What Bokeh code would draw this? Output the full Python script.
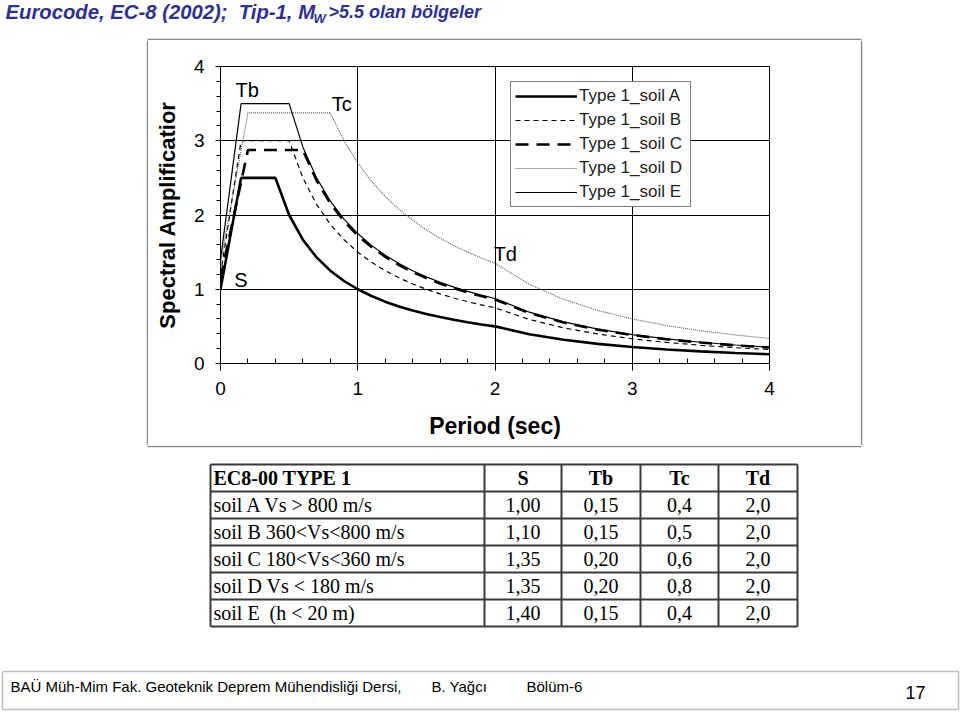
from bokeh.plotting import figure
from bokeh.layouts import column, row
from bokeh.models import Range1d, FixedTicker, Label, Legend, LegendItem
from bokeh.core.properties import value
from bokeh.embed import file_html
from bokeh.resources import INLINE

# ---------------- data ----------------
period = [0, 0.15, 0.2, 0.3, 0.4, 0.5, 0.6, 0.7, 0.8, 0.9, 1.0, 1.1, 1.2, 1.3, 1.4,
          1.5, 1.6, 1.7, 1.8, 1.9, 2.0, 2.25, 2.5, 2.75, 3.0, 3.25, 3.5, 3.75, 4.0]
soil_a = [1.0, 2.5, 2.5, 2.5, 2.5, 2.0, 1.667, 1.429, 1.25, 1.111, 1.0, 0.909, 0.833, 0.769, 0.714,
          0.667, 0.625, 0.588, 0.556, 0.526, 0.5, 0.395, 0.32, 0.264, 0.222, 0.189, 0.163, 0.142, 0.125]
soil_b = [1.2, 3.0, 3.0, 3.0, 3.0, 3.0, 2.5, 2.143, 1.875, 1.667, 1.5, 1.364, 1.25, 1.154, 1.071,
          1.0, 0.938, 0.882, 0.833, 0.789, 0.75, 0.593, 0.48, 0.397, 0.333, 0.284, 0.245, 0.213, 0.188]
soil_c = [1.15, 2.444, 2.875, 2.875, 2.875, 2.875, 2.875, 2.464, 2.156, 1.917, 1.725, 1.568, 1.438, 1.327, 1.232,
          1.15, 1.078, 1.015, 0.958, 0.908, 0.863, 0.681, 0.552, 0.456, 0.383, 0.327, 0.282, 0.245, 0.216]
soil_d = [1.35, 2.869, 3.375, 3.375, 3.375, 3.375, 3.375, 3.375, 3.375, 3.0, 2.7, 2.455, 2.25, 2.077, 1.929,
          1.8, 1.688, 1.588, 1.5, 1.421, 1.35, 1.067, 0.864, 0.714, 0.6, 0.511, 0.441, 0.384, 0.338]
soil_e = [1.4, 3.5, 3.5, 3.5, 3.5, 3.5, 2.917, 2.5, 2.188, 1.944, 1.75, 1.591, 1.458, 1.346, 1.25,
          1.167, 1.094, 1.029, 0.972, 0.921, 0.875, 0.691, 0.56, 0.463, 0.389, 0.331, 0.286, 0.249, 0.219]
series_names = ["Type 1_soil A", "Type 1_soil B", "Type 1_soil C", "Type 1_soil D", "Type 1_soil E"]

x_ticks = [0, 1, 2, 3, 4]
y_ticks = [0, 1, 2, 3, 4]
minor_ticks = [0.2, 0.4, 0.6, 0.8, 1.2, 1.4, 1.6, 1.8, 2.2, 2.4, 2.6, 2.8, 3.2, 3.4, 3.6, 3.8]

table_header = ["EC8-00 TYPE 1", "S", "Tb", "Tc", "Td"]
soil_desc = ["soil A Vs > 800 m/s", "soil B 360<Vs<800 m/s", "soil C 180<Vs<360 m/s",
             "soil D Vs < 180 m/s", "soil E \u00a0(h < 20 m)"]
s_vals = ["1,00", "1,10", "1,35", "1,35", "1,40"]
tb_vals = ["0,15", "0,15", "0,20", "0,20", "0,15"]
tc_vals = ["0,4", "0,5", "0,6", "0,8", "0,4"]
td_vals = ["2,0", "2,0", "2,0", "2,0", "2,0"]

SANS = "Liberation Sans"
SERIF = "Liberation Serif"

# ---------------- page geometry (canvas pixels) ----------------
W, H = 960, 712
TOP_H = 40            # title strip
MID_H = 405           # chart strip
BOT_H = H - TOP_H - MID_H
LEFT_W, CHART_W = 148, 712
RIGHT_W = W - LEFT_W - CHART_W
BORDER = "#8a8a8a"


def no_align(f):
    try:
        f.frame_align = False
    except Exception:
        pass


def canvas_fig(w, h):
    f = figure(width=w, height=h, x_range=Range1d(0, w), y_range=Range1d(h, 0),
               output_backend="svg", toolbar_location=None,
               x_axis_location=None, y_axis_location=None,
               min_border=0, min_border_left=0, min_border_right=0,
               min_border_top=0, min_border_bottom=0)
    f.grid.visible = False
    f.outline_line_color = None
    f.background_fill_color = "white"
    f.border_fill_color = "white"
    no_align(f)
    return f


def put_text(f, xs, ys, texts, size, font=SANS, style="normal", color="black", align="left"):
    f.text(x=xs, y=ys, text=texts, text_font=value(font), text_font_size=value(size),
           text_font_style=value(style), text_color=value(color), text_align=value(align),
           text_baseline=value("middle"))


# ---------------- title strip ----------------
top = canvas_fig(W, TOP_H)
TITLE = "#2E3192"
put_text(top, [5], [11.2], ["Eurocode, EC-8 (2002); \u00a0Tip-1, M"], "20.3px", style="bold italic", color=TITLE)
put_text(top, [313], [18.3], ["W"], "13px", style="bold italic", color=TITLE)
put_text(top, [328], [11.8], [">5.5 olan bölgeler"], "18px", style="bold italic", color=TITLE)
top.segment(x0=[147], y0=[39], x1=[861], y1=[39], line_color=BORDER, line_width=1.5)

# ---------------- side strips (chart image border) ----------------
left = canvas_fig(LEFT_W, MID_H)
left.segment(x0=[147], y0=[0], x1=[147], y1=[MID_H], line_color=BORDER, line_width=1.5)
right = canvas_fig(RIGHT_W, MID_H)
right.segment(x0=[1], y0=[0], x1=[1], y1=[MID_H], line_color=BORDER, line_width=1.5)

# ---------------- chart ----------------
FL, FT, FR, FB = 220 - LEFT_W, 66 - TOP_H, 769 - LEFT_W, 363 - TOP_H   # frame within chart figure
p = figure(width=CHART_W, height=MID_H, x_range=Range1d(0, 4), y_range=Range1d(0, 4),
           output_backend="svg", toolbar_location=None,
           min_border_left=FL, min_border_right=CHART_W - FR, min_border_top=FT,
           min_border_bottom=MID_H - FB)
no_align(p)
p.background_fill_color = "white"
p.border_fill_color = "white"
p.outline_line_color = "black"
p.outline_line_width = 1

p.xaxis.ticker = FixedTicker(ticks=x_ticks, minor_ticks=minor_ticks)
p.yaxis.ticker = FixedTicker(ticks=y_ticks, minor_ticks=minor_ticks)
for ax in (p.xaxis[0], p.yaxis[0]):
    ax.axis_line_color = "black"
    ax.major_tick_line_color = "black"
    ax.minor_tick_line_color = "black"
    ax.major_label_text_font = SANS
    ax.major_label_text_font_size = "19px"
    ax.major_label_text_color = "black"
    ax.axis_label_text_font = SANS
    ax.axis_label_text_font_style = "bold"
    ax.axis_label_text_color = "black"
p.xaxis.major_tick_in = 0
p.xaxis.major_tick_out = 7
p.xaxis.minor_tick_in = 5
p.xaxis.minor_tick_out = 0
p.xaxis.major_label_standoff = 11
p.xaxis.axis_label = "Period (sec)"
p.xaxis.axis_label_text_font_size = "23px"
p.xaxis.axis_label_standoff = 15
p.yaxis.major_tick_in = 0
p.yaxis.major_tick_out = 5
p.yaxis.minor_tick_in = 0
p.yaxis.minor_tick_out = 4
p.yaxis.major_label_standoff = 11
p.yaxis.axis_label = "Spectral Amplificatior"
p.yaxis.axis_label_text_font_size = "22px"
p.yaxis.axis_label_standoff = 11

p.xgrid.ticker = FixedTicker(ticks=x_ticks)
p.ygrid.ticker = FixedTicker(ticks=y_ticks)
p.xgrid.grid_line_color = "black"
p.ygrid.grid_line_color = "black"

styles = [
    dict(line_color="black", line_width=2.6),
    dict(line_color="black", line_width=1.2, line_dash="5 4"),
    dict(line_color="black", line_width=2.6, line_dash="13 8"),
    dict(line_color="#555555", line_width=1.1, line_dash="1 1"),
    dict(line_color="black", line_width=1.2),
]
renderers = [p.line(period, ys, **st)
             for ys, st in zip([soil_a, soil_b, soil_c, soil_d, soil_e], styles)]

legend = Legend(items=[LegendItem(label=n, renderers=[r]) for n, r in zip(series_names, renderers)],
                location=(510 - 220, 363 - 207), margin=0, padding=4, spacing=4,
                glyph_width=62, glyph_height=20, label_height=20, label_standoff=2, label_width=107,
                label_text_font=SANS, label_text_font_size="17px", label_text_color="#222222",
                border_line_color="black", border_line_width=1,
                background_fill_color="white", background_fill_alpha=1)
p.add_layout(legend)

for txt, x, y in [("Tb", 0.11, 3.69), ("Tc", 0.81, 3.49), ("Td", 1.99, 1.47), ("S", 0.10, 1.13)]:
    p.add_layout(Label(x=x, y=y, text=txt, text_font=SANS, text_font_size="20px",
                       text_color="black", text_baseline="middle"))

# ---------------- table + footer ----------------
bot = canvas_fig(W, BOT_H)
OY = TOP_H + MID_H   # canvas y of this strip's top
bot.segment(x0=[147], y0=[446 - OY], x1=[861], y1=[446 - OY], line_color=BORDER, line_width=1.5)

col_edges = [210, 484, 561, 640, 718, 797]
row_edges = [464 - OY, 491 - OY, 518 - OY, 545 - OY, 572 - OY, 599 - OY, 626 - OY]
bot.segment(x0=[col_edges[0]] * len(row_edges), y0=row_edges,
            x1=[col_edges[-1]] * len(row_edges), y1=row_edges, line_color="#3a3a3a", line_width=2)
bot.segment(x0=col_edges, y0=[row_edges[0]] * len(col_edges),
            x1=col_edges, y1=[row_edges[-1]] * len(col_edges), line_color="#3a3a3a", line_width=2)

mids = [(row_edges[i] + row_edges[i + 1]) / 2 - 0.5 for i in range(len(row_edges) - 1)]
col_mid = [(col_edges[j] + col_edges[j + 1]) / 2 for j in range(1, len(col_edges) - 1)]
TFS = "20px"
put_text(bot, [col_edges[0] + 3], [mids[0]], [table_header[0]], TFS, font=SERIF, style="bold")
put_text(bot, col_mid, [mids[0]] * 4, table_header[1:], TFS, font=SERIF, style="bold", align="center")
put_text(bot, [col_edges[0] + 3] * 5, mids[1:], soil_desc, TFS, font=SERIF)
for cm, vals in zip(col_mid, [s_vals, tb_vals, tc_vals, td_vals]):
    put_text(bot, [cm] * 5, mids[1:], vals, TFS, font=SERIF, align="center")

# footer box and texts
fy0, fy1 = 671 - OY, 709 - OY
bot.segment(x0=[2, 2, 2, 958], y0=[fy0, fy1, fy0, fy0], x1=[958, 958, 2, 958], y1=[fy0, fy1, fy1, fy1],
            line_color="#bdbdbd", line_width=1.5)
put_text(bot, [10, 431, 526], [686 - OY] * 3,
         ["BAÜ Müh-Mim Fak. Geoteknik Deprem Mühendisliği Dersi,", "B. Yağcı", "Bölüm-6"], "15px")
put_text(bot, [905], [691.5 - OY], ["17"], "18px")

layout = column(top, row(left, p, right), bot)
open("out.html", "w").write(file_html(layout, INLINE))
